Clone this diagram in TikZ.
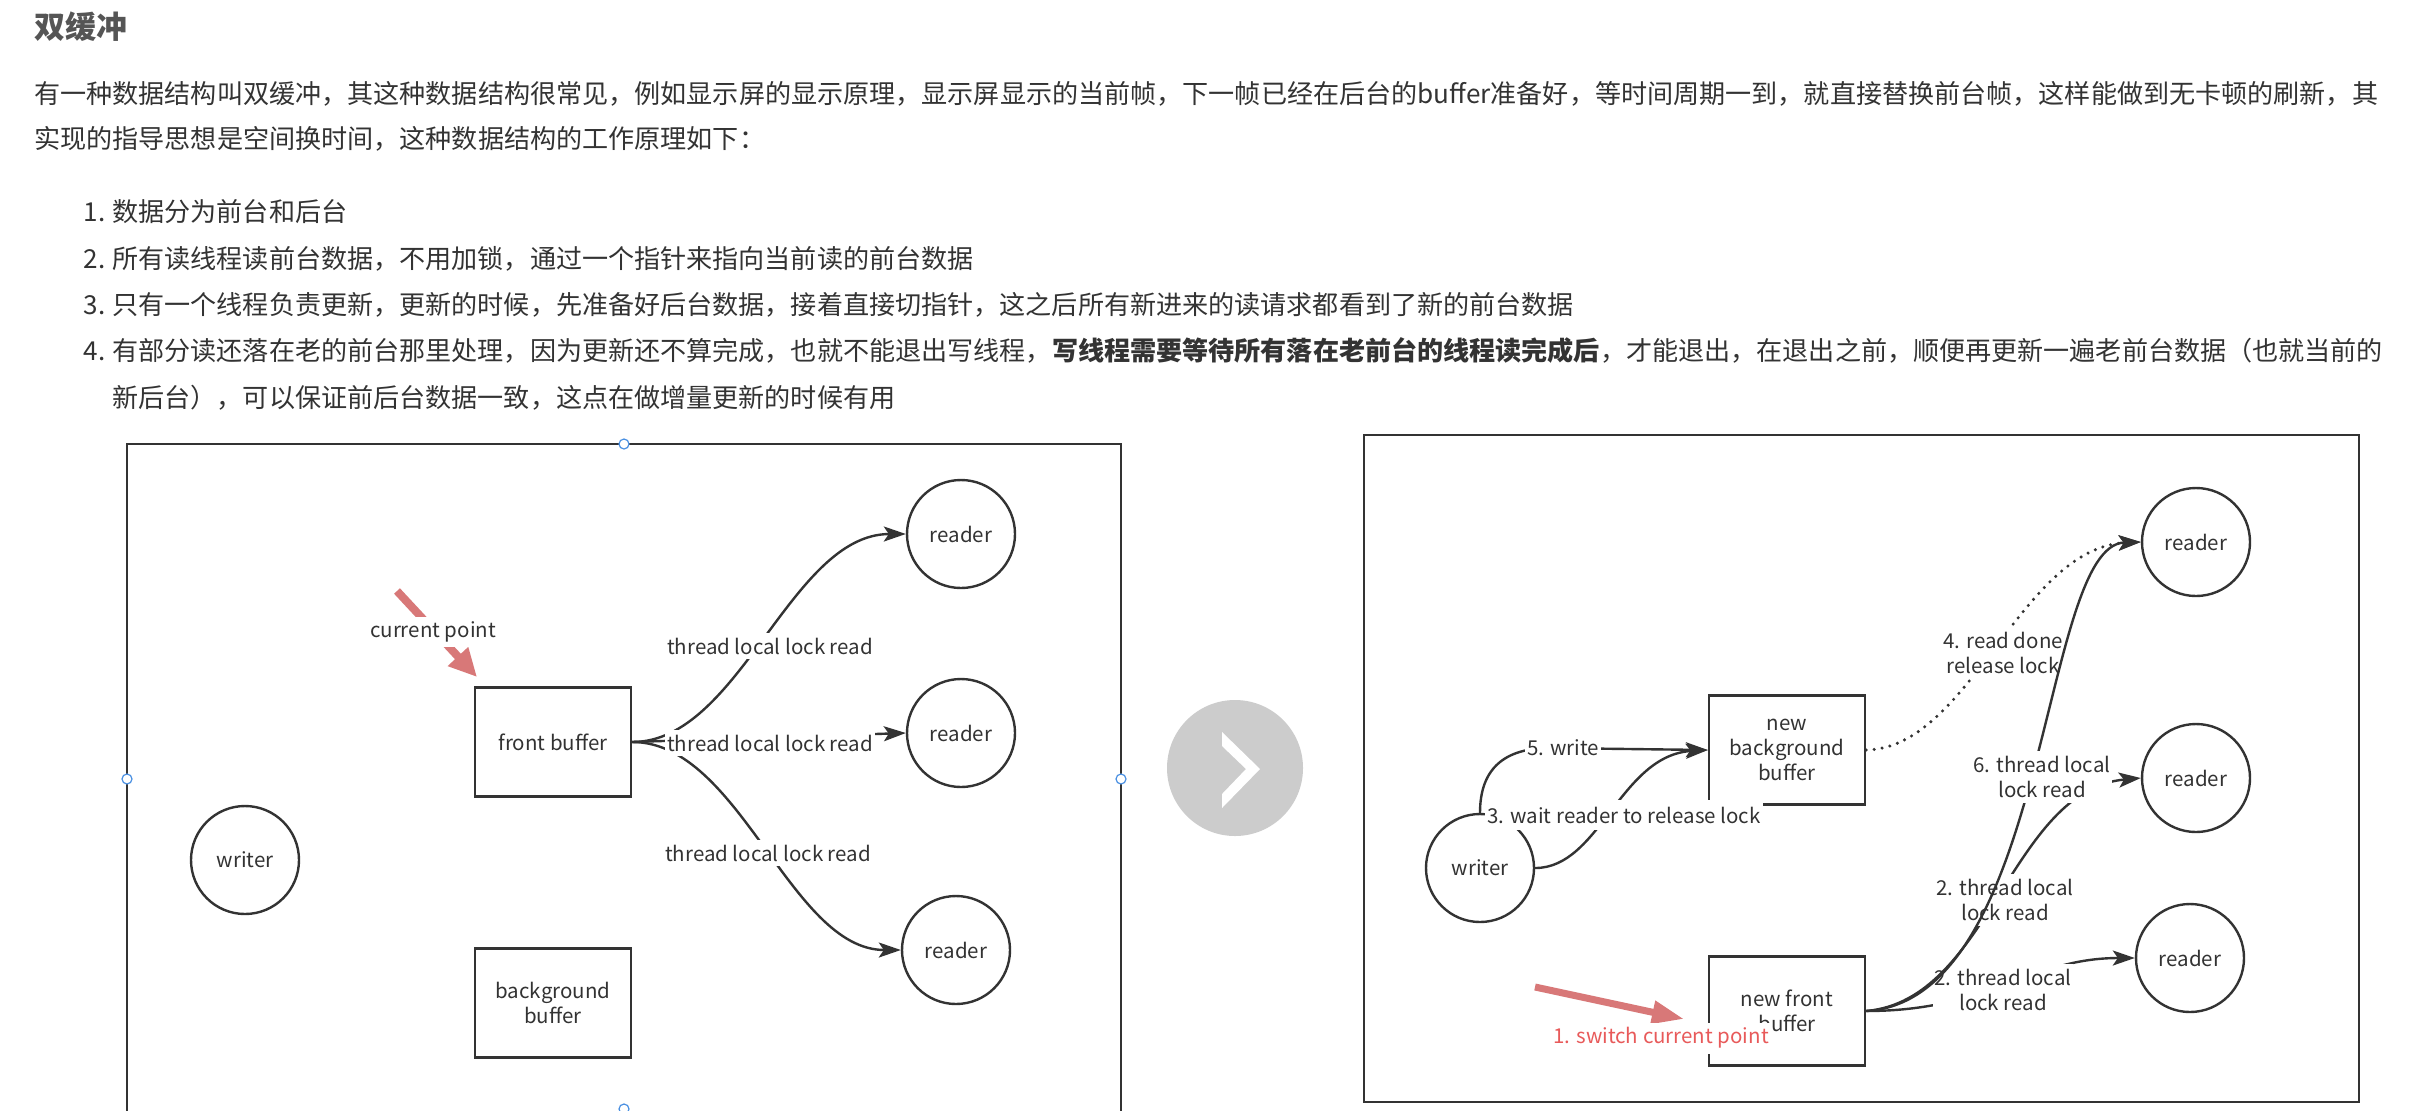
\documentclass[tikz,border=0pt]{standalone}
\usepackage{fontspec}
\setmainfont{Noto Sans CJK SC}
\usetikzlibrary{arrows.meta}
\definecolor{ink}{HTML}{333333}
\definecolor{titlec}{HTML}{555555}
\definecolor{redarrow}{HTML}{D87878}
\definecolor{redtext}{HTML}{E85A5A}
\definecolor{btn}{HTML}{CCCCCC}
\definecolor{handle}{HTML}{4A90E2}
\newcommand\dfont{\fontsize{10.25pt}{12.4pt}\selectfont}
\newcommand\bfont{\fontsize{13.05pt}{15pt}\selectfont}
\tikzset{
  titlef/.style={anchor=west, inner sep=0pt, text=titlec, font=\fontsize{15.5pt}{18pt}\selectfont\bfseries, text height=0.88em, text depth=0.12em},
  bodyf/.style={anchor=west, inner sep=0pt, text=ink, font=\bfont, text height=0.88em, text depth=0.12em},
  rd/.style={circle, draw=ink, line width=1.2pt, minimum size=54pt, inner sep=0pt, text=ink, font=\dfont},
  bx/.style={rectangle, draw=ink, line width=1.2pt, minimum width=78pt, minimum height=54.5pt, inner sep=0pt, align=center, text=ink, font=\dfont},
  edge/.style={draw=ink, line width=1.2pt, -{Stealth[length=11pt,width=7.5pt,inset=2.5pt]}},
  dotedge/.style={draw=ink, line width=1.7pt, line cap=round, dash pattern=on 0pt off 4pt, -{Stealth[length=11pt,width=7.5pt,inset=2.5pt]}},
  lbl/.style={fill=white, inner xsep=1pt, inner ysep=2.5pt, align=center, text=ink, font=\dfont},
  frame/.style={draw=ink, line width=1.4pt},
  hdl/.style={circle, draw=handle, fill=white, line width=0.6pt, minimum size=5pt, inner sep=0pt},
  redarr/.style={draw=redarrow, line width=3.5pt, -{Triangle[length=16pt,width=11pt]}},
}
\begin{document}
\begin{tikzpicture}[x=0.5pt,y=-0.5pt]
\useasboundingbox (0,0) rectangle (2420,1110);
\clip (0,0) rectangle (2420,1110);
\fill[white] (0,0) rectangle (2420,1110);

% ---------- text ----------
\node[titlef] (title) at (34,31) {双缓冲};
\node[bodyf] (p1) at (34,96) {有一种数据结构叫双缓冲，其这种数据结构很常见，例如显示屏的显示原理，显示屏显示的当前帧，下一帧已经在后台的buffer准备好，等时间周期一到，就直接替换前台帧，这样能做到无卡顿的刷新，其};
\node[bodyf] (p2) at (34,141) {实现的指导思想是空间换时间，这种数据结构的工作原理如下：};
\node[bodyf, anchor=east] (n1) at (106,214) {1.};
\node[bodyf] (i1) at (112,214) {数据分为前台和后台};
\node[bodyf, anchor=east] (n2) at (106,261) {2.};
\node[bodyf] (i2) at (112,261) {所有读线程读前台数据，不用加锁，通过一个指针来指向当前读的前台数据};
\node[bodyf, anchor=east] (n3) at (106,307) {3.};
\node[bodyf] (i3) at (112,307) {只有一个线程负责更新，更新的时候，先准备好后台数据，接着直接切指针，这之后所有新进来的读请求都看到了新的前台数据};
\node[bodyf, anchor=east] (n4) at (106,353) {4.};
\node[bodyf] (i4) at (112,353) {有部分读还落在老的前台那里处理，因为更新还不算完成，也就不能退出写线程，{\bfseries 写线程需要等待所有落在老前台的线程读完成后}，才能退出，在退出之前，顺便再更新一遍老前台数据（也就当前的};
\node[bodyf] (i4b) at (112,400) {新后台），可以保证前后台数据一致，这点在做增量更新的时候有用};

% ---------- left panel ----------
\draw[frame] (127,1130) -- (127,444) -- (1121,444) -- (1121,1130);
\node[rd] (w1) at (245,860) {writer};
\node[bx] (fb) at (553,742) {front buffer};
\node[bx] (bb) at (553,1003) {background\\buffer};
\node[rd] (r1) at (961,534) {reader};
\node[rd] (r2) at (961,733) {reader};
\node[rd] (r3) at (956,950) {reader};
\draw[edge] (fb.east) .. controls (740,742) and (790,534) .. (r1.west);
\draw[edge] (fb.east) .. controls (740,742) and (790,950) .. (r3.west);
\draw[edge] (fb.east) -- (r2.west);
\node[lbl] (la) at (770,646) {thread local lock read};
\node[lbl] (lc) at (768,853) {thread local lock read};
\node[lbl] (lb) at (770,743) {thread local lock read};
\draw[redarr, line width=4pt, -{Triangle[length=14pt,width=13pt]}] (397,591) -- (477,677);
\node[lbl] (cp) at (433,632) {current point};
\node[hdl] (h1) at (624,444) {};
\node[hdl] (h2) at (127,779) {};
\node[hdl] (h3) at (1121,779) {};
\node[hdl] (h4) at (624,1109) {};

% ---------- button ----------
\node[circle, fill=btn, minimum size=68pt, inner sep=0pt] (btn) at (1235,768) {};
\fill[white] (1222,732) -- (1260,769) -- (1222,808) -- (1222,794) -- (1246,769) -- (1222,746) -- cycle;

% ---------- right panel ----------
\draw[frame] (1364,435) rectangle (2359,1102);
\node[rd] (w2) at (1480,868) {writer};
\node[bx] (nbb) at (1787,750) {new\\background\\buffer};
\node[bx] (nfb) at (1787,1011) {new front\\buffer};
\node[rd] (q1) at (2196,542) {reader};
\node[rd] (q2) at (2196,778) {reader};
\node[rd] (q3) at (2190,958) {reader};

\draw[edge] (nfb.east) .. controls (1990,1011) and (2030,958) .. (q3.west);
\node[lbl] (l2c) at (2003,990) {2. thread local\\lock read};
\draw[dotedge] (nbb.east) .. controls (1970,748) and (2020,548) .. (q1.west);
\node[lbl] (l4) at (2003,653) {4. read done\\release lock};
\draw[edge] (nfb.east) .. controls (1990,1000) and (2010,790) .. (q2.west);
\node[lbl] (l2b) at (2005,900) {2. thread local\\lock read};
\draw[edge] (nfb.east) .. controls (2050,1000) and (2040,545) .. (q1.west);
\node[lbl] (l6) at (2042,777) {6. thread local\\lock read};

\draw[edge] (w2.north) .. controls (1480,768) and (1505,748) .. (1550,748) -- (nbb.west);
\node[lbl] (l5) at (1563,748) {5. write};
\draw[edge] (w2.east) .. controls (1600,868) and (1620,755) .. (nbb.west);
\node[lbl, inner ysep=3.5pt] (l3) at (1624,815) {3. wait reader to release lock};

\draw[redarr] (1535,987) -- (1684,1019);
\node[lbl, text=redtext] (l1) at (1661,1038) {1. switch current point};
\end{tikzpicture}
\end{document}
